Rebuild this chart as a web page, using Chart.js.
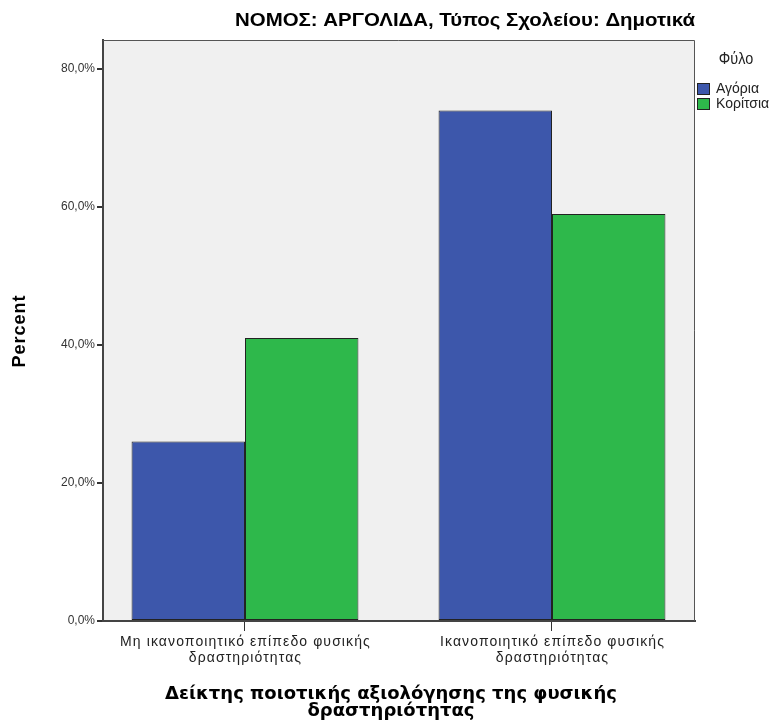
<!DOCTYPE html>
<html>
<head>
<meta charset="utf-8">
<script src="https://cdn.jsdelivr.net/npm/chart.js@4.4.1/dist/chart.umd.min.js"></script>
<style>
  html,body{margin:0;padding:0;background:#fff;}
  #wrap{width:780px;height:727px;}
</style>
</head>
<body>
<div id="wrap"><canvas id="chart" width="780" height="727"></canvas></div>
<script>
// data
const categories = [
  ["Μη ικανοποιητικό επίπεδο φυσικής", "δραστηριότητας"],
  ["Ικανοποιητικό επίπεδο φυσικής", "δραστηριότητας"]
]
const boys = [26.0, 74.0]
const girls = [41.0, 59.0]
const seriesNames = ["Αγόρια", "Κορίτσια"]
const yTicks = [0, 20, 40, 60, 80]
const chartTitle = "ΝΟΜΟΣ: ΑΡΓΟΛΙΔΑ, Τύπος Σχολείου: Δημοτικά"
const legendTitle = "Φύλο"
const yTitle = "Percent"
const xTitle = ["Δείκτης ποιοτικής αξιολόγησης της φυσικής", "δραστηριότητας"]

const colors = ["#3d57ab", "#2eb84b"]
const sans = "'Liberation Sans', Arial, sans-serif"

// text squeezed sideways, to look like Arial Narrow
function narrowText(ctx, text, x, y, sx) {
  ctx.save()
  ctx.translate(x, y)
  ctx.scale(sx, 1)
  ctx.fillText(text, 0, 0)
  ctx.restore()
}

// background, frame, titles, x labels and legend (SPSS style)
const spssDecor = {
  id: "spssDecor",
  beforeDraw(chart) {
    const {ctx, chartArea: a} = chart
    ctx.save()
    ctx.fillStyle = "#f0f0f0"
    ctx.fillRect(a.left, a.top, a.right - a.left, a.bottom - a.top)
    ctx.restore()
  },
  afterDraw(chart) {
    const {ctx, chartArea: a} = chart
    const xs = chart.scales.x
    ctx.save()
    // top + right frame
    ctx.strokeStyle = "#555"
    ctx.lineWidth = 1
    ctx.beginPath()
    ctx.moveTo(a.left, a.top + 0.5)
    ctx.lineTo(a.right - 0.5, a.top + 0.5)
    ctx.lineTo(a.right - 0.5, a.bottom)
    ctx.stroke()

    // title, right aligned on the plot
    ctx.fillStyle = "#000"
    ctx.font = "bold 19px " + sans
    ctx.textAlign = "right"
    ctx.textBaseline = "middle"
    const tw = ctx.measureText(chartTitle).width
    narrowText(ctx, chartTitle, a.right, 21, 460 / tw)

    // x tick labels
    ctx.fillStyle = "#222"
    ctx.textAlign = "center"
    ctx.font = "14px " + sans
    ctx.letterSpacing = "1.1px"
    categories.forEach((lines, i) => {
      const px = xs.getPixelForValue(i)
      lines.forEach((t, j) => ctx.fillText(t, px + 0.5, 642 + j * 16))
    })

    // y title
    ctx.save()
    ctx.fillStyle = "#000"
    ctx.translate(20, 331)
    ctx.rotate(-Math.PI / 2)
    ctx.font = "bold 18px " + sans
    ctx.letterSpacing = "1px"
    ctx.fillText(yTitle, 0, 0)
    ctx.restore()
    ctx.letterSpacing = "0px"

    // x title
    ctx.fillStyle = "#000"
    ctx.font = "bold 18px 'DejaVu Sans', Verdana, sans-serif"
    const cx = (a.left + a.right) / 2 - 8
    xTitle.forEach((t, i) => ctx.fillText(t, cx, 694 + i * 17))

    // legend
    ctx.fillStyle = "#222"
    ctx.font = "16px " + sans
    narrowText(ctx, legendTitle, 736, 60, 0.9)
    ctx.textAlign = "left"
    ctx.font = "14px " + sans
    seriesNames.forEach((n, i) => {
      const y = 83 + i * 15
      ctx.fillStyle = colors[i]
      ctx.fillRect(697, y, 13, 12)
      ctx.strokeStyle = "#222"
      ctx.lineWidth = 1
      ctx.strokeRect(697.5, y + 0.5, 12, 11)
      ctx.fillStyle = "#222"
      narrowText(ctx, n, 716, y + 6.5, 1)
    })
    ctx.restore()
  }
}

const ctx = document.getElementById("chart")
new Chart(ctx, {
  type: "bar",
  data: {
    datasets: [
      {label: seriesNames[0], data: boys.map((v, i) => ({x: i, y: v})), backgroundColor: colors[0]},
      {label: seriesNames[1], data: girls.map((v, i) => ({x: i, y: v})), backgroundColor: colors[1]}
    ]
  },
  options: {
    responsive: false,
    animation: false,
    layout: {padding: {left: 40, right: 85, top: 40, bottom: 0}},
    datasets: {
      bar: {
        borderColor: "#222",
        borderWidth: 1,
        borderSkipped: false,
        categoryPercentage: 0.739,
        barPercentage: 1
      }
    },
    plugins: {
      legend: {display: false},
      tooltip: {enabled: false}
    },
    scales: {
      x: {
        type: "linear",
        offset: false,
        min: -0.4625,
        max: 1.4658,
        afterBuildTicks(scale) {
          scale.ticks = categories.map((c, i) => ({value: i}))
        },
        afterFit(scale) { scale.height = 106 },
        grid: {offset: false, drawOnChartArea: false, drawTicks: true, tickLength: 10, color: "#333", lineWidth: 1},
        border: {display: true, color: "#444", width: 2},
        ticks: {display: false}
      },
      y: {
        min: 0,
        max: 84.2,
        afterBuildTicks(scale) {
          scale.ticks = yTicks.map(v => ({value: v}))
        },
        afterFit(scale) { scale.width = 63 },
        grid: {drawOnChartArea: false, drawTicks: true, tickLength: 6, color: "#333", lineWidth: 2},
        border: {display: true, color: "#444", width: 2},
        ticks: {
          padding: 2,
          color: "#333",
          font: {family: sans, size: 12},
          callback: (v) => v.toFixed(1).replace(".", ",") + "%"
        }
      }
    }
  },
  plugins: [spssDecor]
})
</script>
</body>
</html>
